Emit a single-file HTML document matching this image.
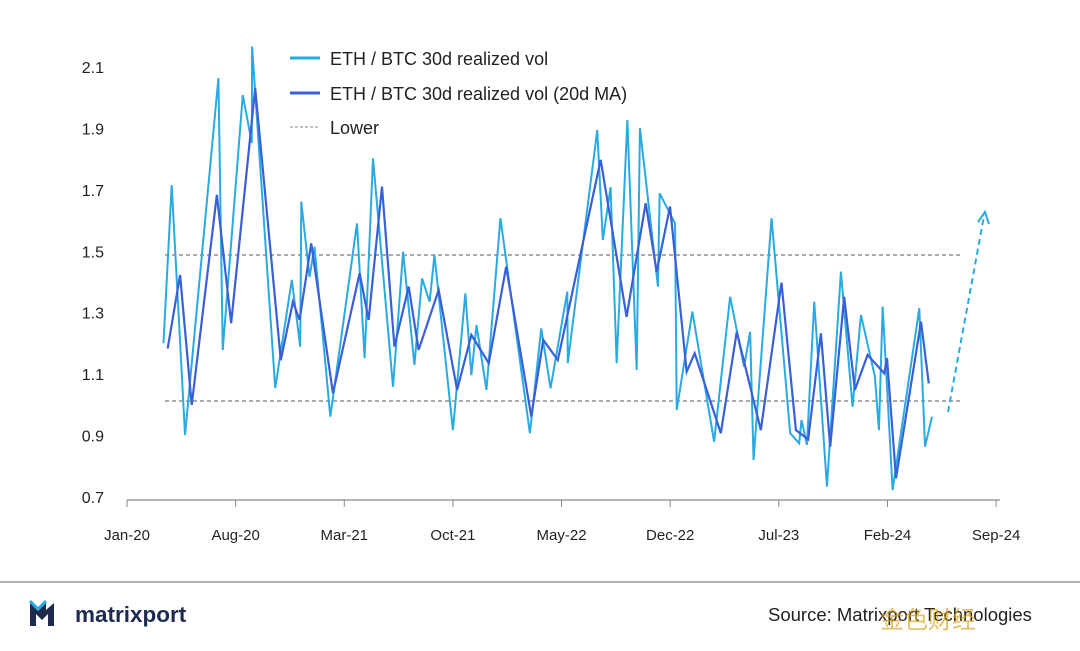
<!DOCTYPE html>
<html><head><meta charset="utf-8"><style>
body{margin:0;background:#fff;width:1080px;height:646px;overflow:hidden;font-family:"Liberation Sans",sans-serif}
</style></head><body>
<svg id="c" width="1080" height="646" xmlns="http://www.w3.org/2000/svg" font-family="Liberation Sans, sans-serif">
<g id="axes"></g>
<g id="plot"></g>
<g>
 <g><line x1="290" y1="58" x2="320" y2="58" stroke="#29abe2" stroke-width="3"/><text x="330" y="65" font-size="18" fill="#222">ETH / BTC 30d realized vol</text></g>
 <g><line x1="290" y1="93" x2="320" y2="93" stroke="#3a5fd6" stroke-width="3"/><text x="330" y="100" font-size="18" fill="#222">ETH / BTC 30d realized vol (20d MA)</text></g>
 <g><line x1="290" y1="127" x2="320" y2="127" stroke="#888" stroke-width="1" stroke-dasharray="3,2"/><text x="330" y="134" font-size="18" fill="#222">Lower</text></g>
</g>
<line x1="0" y1="582" x2="1080" y2="582" stroke="#999" stroke-width="1.5"/>
<g>
 <path d="M30 626 L30 603 L38 611 L46 603 L46 610 L54 603 L54 626 L48 626 L48 614 L42 620 L36 614 L36 626 Z" fill="#1d2b4f"/>
 <path d="M30 601 L38 609 L46 601" stroke="#29abe2" stroke-width="3" fill="none"/>
 <text x="75" y="622" font-size="22.5" font-weight="bold" fill="#1d2b4f">matrixport</text>
</g>
<text x="768" y="621" font-size="18.5" fill="#222">Source: Matrixport Technologies</text>
<text x="880" y="628" font-size="24" fill="#d9a320" opacity="0.7" font-family="Liberation Sans, Noto Sans CJK SC, sans-serif">金色财经</text>
</svg>
<script>
const volMonths=[2.35,2.88,3.74,5.89,6.17,7.46,8.04,8.06,9.55,10.62,11.16,11.23,11.76,12.08,13.1,14.82,15.31,15.85,17.14,17.79,18.52,19.01,19.5,19.81,21,21.8,22.19,22.52,23.16,24.06,25.96,26.69,27.29,28.37,28.4,30.3,30.66,31.16,31.55,32.24,32.84,33.05,34.21,34.32,35.31,35.42,36.43,37.83,38.86,39.76,40.15,40.37,41.53,42.73,43.31,43.46,43.81,44.28,45.1,46,46.75,47.29,48.19,48.45,48.69,49.33,51.05,51.42,51.87];
const volValues=[1.204,1.719,0.905,2.067,1.182,2.012,1.856,2.17,1.058,1.41,1.193,1.665,1.42,1.518,0.965,1.594,1.155,1.806,1.062,1.502,1.133,1.415,1.339,1.491,0.921,1.366,1.1,1.263,1.052,1.611,0.911,1.252,1.057,1.372,1.139,1.898,1.54,1.712,1.139,1.931,1.117,1.904,1.388,1.692,1.594,0.987,1.307,0.883,1.355,1.127,1.241,0.824,1.611,0.911,0.878,0.954,0.873,1.339,0.737,1.437,0.997,1.296,1.095,0.921,1.323,0.726,1.318,0.867,0.965];
const maMonths=[2.62,3.42,4.17,5.79,6.71,8.26,9.91,10.69,11.12,11.87,13.27,14.99,15.57,16.43,17.23,18.15,18.79,20.08,21.27,22.19,23.31,24.43,26.05,26.82,27.76,30.52,32.19,33.42,34.13,34.99,36.06,36.58,38.26,39.29,40.84,42.17,43.1,43.89,44.71,45.31,46.21,46.9,47.72,48.79,48.97,49.55,51.16,51.66];
const maValues=[1.187,1.426,1.003,1.687,1.269,2.034,1.149,1.339,1.28,1.529,1.041,1.432,1.28,1.714,1.193,1.388,1.182,1.377,1.052,1.231,1.139,1.453,0.965,1.215,1.149,1.801,1.29,1.66,1.437,1.649,1.111,1.171,0.911,1.241,0.921,1.401,0.921,0.891,1.236,0.867,1.355,1.052,1.166,1.106,1.155,0.764,1.274,1.073];
const bandValues=[1.491,1.016];
const yTicks=[0.7,0.9,1.1,1.3,1.5,1.7,1.9,2.1];
const xTickMonths=[0,7,14,21,28,35,42,49,56];
const xTickLabels=["Jan-20","Aug-20","Mar-21","Oct-21","May-22","Dec-22","Jul-23","Feb-24","Sep-24"];
const X=m=>127+m*15.52, Y=v=>498-(v-0.7)/1.4*430;
const NS="http://www.w3.org/2000/svg";
const ax=document.getElementById('axes'), pl=document.getElementById('plot');
function mk(t,a,p){const e=document.createElementNS(NS,t);for(const k in a)e.setAttribute(k,a[k]);p.appendChild(e);return e;}
let l=mk('line',{x1:127,y1:500,x2:1000,y2:500,stroke:'#888','stroke-width':1.2},ax);


xTickMonths.forEach((m,i)=>{
 const t=mk('line',{x1:X(m),y1:500,x2:X(m),y2:507,stroke:'#888'},ax);
 
 
 const tx=mk('text',{x:X(m),y:540,'text-anchor':'middle','font-size':15,fill:'#222'},ax);tx.textContent=xTickLabels[i];
 
 
});
yTicks.forEach(v=>{
 const tx=mk('text',{x:104,y:Y(v)+5,'text-anchor':'end','font-size':16,fill:'#222'},ax);tx.textContent=v.toFixed(1);
 
 
});
bandValues.forEach(v=>{
 const b=mk('line',{x1:165,y1:Y(v),x2:962,y2:Y(v),stroke:'#555','stroke-width':1,'stroke-dasharray':'4,3'},pl);
 
 
});
function line(ms,vs,col,w,name){
 const p=mk('polyline',{points:ms.map((m,i)=>X(m)+','+Y(vs[i])).join(' '),fill:'none',stroke:col,'stroke-width':w,'stroke-linejoin':'miter'},pl);
 
 
}
line(volMonths,volValues,'#29abe2',2,'vol-series-line');
line(maMonths,maValues,'#3a5fd6',2.2,'ma-series-line');
const ar=mk('path',{d:'M948 412 L984 216',stroke:'#29abe2','stroke-width':2,'stroke-dasharray':'6,4',fill:'none'},pl);


const ah=mk('path',{d:'M978 222 L985 212 L989 224',stroke:'#29abe2','stroke-width':2,fill:'none'},pl);


</script>
</body></html>
